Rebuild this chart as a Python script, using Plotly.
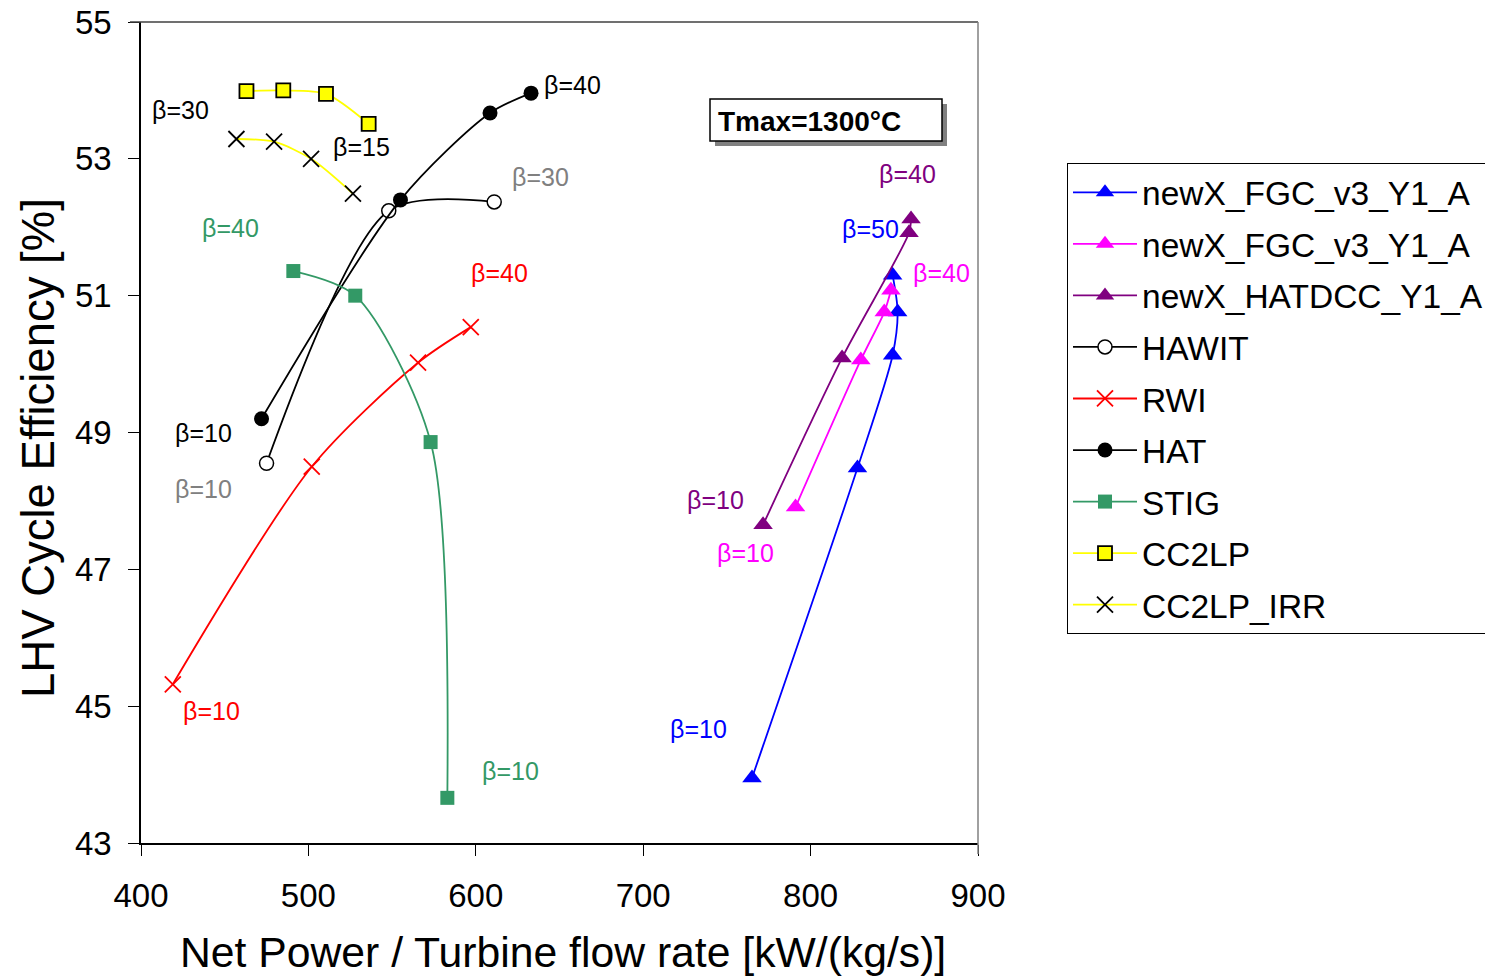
import plotly.graph_objects as go

# ---- data ----
fgc_blue_x = [765, 828, 849, 852, 849]
fgc_blue_y = [43.95, 48.48, 50.13, 50.76, 51.30]

fgc_mag_x = [791, 830, 844, 848]
fgc_mag_y = [47.91, 50.06, 50.76, 51.08]

hatdcc_x = [771.6, 818.8, 858.8, 860.0]
hatdcc_y = [47.65, 50.09, 51.92, 52.12]

hawit_x = [475, 548, 611]
hawit_y = [48.55, 52.24, 52.37]

rwi_x = [419, 502, 565.5, 597]
rwi_y = [45.32, 48.50, 50.02, 50.54]

hat_x = [472, 555, 608.5, 633]
hat_y = [49.20, 52.40, 53.67, 53.96]

stig_x = [491, 528, 573, 583]
stig_y = [51.36, 51.00, 48.86, 43.66]

cc2lp_x = [463, 485, 510.5, 536]
cc2lp_y = [53.99, 54.00, 53.95, 53.51]

cc2lp_irr_x = [457, 479.5, 501.6, 526.6]
cc2lp_irr_y = [53.29, 53.25, 53.00, 52.49]

x_ticks = [400, 500, 600, 700, 800, 900]
y_ticks = [43, 45, 47, 49, 51, 53, 55]

label_text = ["β=30", "β=15", "β=40", "β=30", "β=40", "β=40", "β=10", "β=10",
              "β=10", "β=10", "β=40", "β=50", "β=40", "β=10", "β=10", "β=10"]
label_x = [423.3, 532, 658, 638.4, 453.2, 613.9, 437.6, 437.6,
           442.4, 621, 857.6, 835.5, 877.9, 742.9, 761.4, 733.3]
label_y = [53.71, 53.17, 54.08, 52.73, 51.99, 51.33, 48.99, 48.17,
           44.93, 44.05, 52.78, 51.97, 51.33, 48.01, 47.24, 44.67]
label_color = ["black", "black", "black", "#808080", "#339966", "#FF0000", "black", "#808080",
               "#FF0000", "#339966", "#800080", "#0000FF", "#FF00FF", "#800080", "#FF00FF", "#0000FF"]

FONT = "Liberation Sans, Arial, sans-serif"
LW = 1.8

fig = go.Figure()

def add(name, xs, ys, lcolor, symbol, msize, mcolor, mline_color=None, mline_w=0, grp=None):
    fig.add_trace(go.Scatter(
        x=xs, y=ys, name=name, mode="lines+markers",
        legendgroup=grp or name,
        line=dict(color=lcolor, width=LW, shape="spline", smoothing=0.8),
        marker=dict(symbol=symbol, size=msize, color=mcolor,
                    line=dict(color=mline_color or mcolor, width=mline_w)),
    ))

add("newX_FGC_v3_Y1_A", fgc_blue_x, fgc_blue_y, "#0000FF", "triangle-up", 17, "#0000FF", grp="g1")
add("newX_FGC_v3_Y1_A", fgc_mag_x, fgc_mag_y, "#FF00FF", "triangle-up", 17, "#FF00FF", grp="g2")
add("newX_HATDCC_Y1_A", hatdcc_x, hatdcc_y, "#800080", "triangle-up", 17, "#800080", grp="g3")
add("HAWIT", hawit_x, hawit_y, "black", "circle", 14, "white", "black", 1.5, grp="g4")
add("RWI", rwi_x, rwi_y, "#FF0000", "x-thin", 16, "#FF0000", "#FF0000", 1.8, grp="g5")
add("HAT", hat_x, hat_y, "black", "circle", 15, "black", grp="g6")
add("STIG", stig_x, stig_y, "#339966", "square", 14, "#339966", grp="g7")
add("CC2LP", cc2lp_x, cc2lp_y, "#FFFF00", "square", 14, "#FFFF00", "black", 1.8, grp="g8")
add("CC2LP_IRR", cc2lp_irr_x, cc2lp_irr_y, "#FFFF00", "x-thin", 16, "black", "black", 1.8, grp="g9")

for t, x, y, c in zip(label_text, label_x, label_y, label_color):
    fig.add_annotation(x=x, y=y, text=t, showarrow=False, xanchor="center", yanchor="middle",
                       font=dict(family=FONT, size=25, color=c))

# plot area pixels: left 141, right 978, top 22, bottom 843
W, H = 1485, 979
L, R, T, B = 141, 978, 22, 843
def px(xp):
    return (xp - L) / (R - L)
def py(yp):
    return (B - yp) / (B - T)

# top/right frame in gray
fig.add_shape(type="line", xref="paper", yref="paper", x0=px(130), x1=1, y0=1, y1=1,
              line=dict(color="#404040", width=1.5))
fig.add_shape(type="line", xref="paper", yref="paper", x0=1, x1=1, y0=py(854), y1=1,
              line=dict(color="#808080", width=1.5))

# Tmax box with shadow
fig.add_shape(type="rect", xref="paper", yref="paper", x0=px(715), x1=px(947), y0=py(146), y1=py(104),
              fillcolor="#808080", line=dict(width=0), layer="below")
fig.add_shape(type="rect", xref="paper", yref="paper", x0=px(710), x1=px(942), y0=py(141), y1=py(99),
              fillcolor="white", line=dict(color="black", width=1.5), layer="below")
fig.add_annotation(xref="paper", yref="paper", x=px(716), y=py(121), text="<b>Tmax=1300°C</b>",
                   showarrow=False, xanchor="left", yanchor="middle",
                   font=dict(family=FONT, size=28, color="black"))

# axis titles
fig.add_annotation(xref="paper", yref="paper", x=px(563), y=py(952),
                   text="Net Power / Turbine flow rate [kW/(kg/s)]", showarrow=False,
                   xanchor="center", yanchor="middle",
                   font=dict(family=FONT, size=42.7, color="black"))
fig.add_annotation(xref="paper", yref="paper", x=px(38), y=py(448),
                   text="LHV Cycle Efficiency [%]", showarrow=False, textangle=-90,
                   xanchor="center", yanchor="middle",
                   font=dict(family=FONT, size=45.5, color="black"))

fig.update_layout(
    width=W, height=H,
    margin=dict(l=L, r=W - R, t=T, b=H - B, autoexpand=False),
    paper_bgcolor="white", plot_bgcolor="white",
    font=dict(family=FONT, color="black"),
    legend=dict(x=px(1067), y=py(163), xanchor="left", yanchor="top",
                bordercolor="black", borderwidth=1, bgcolor="white",
                font=dict(family=FONT, size=33.5, color="black"),
                traceorder="grouped", tracegroupgap=5, itemwidth=64),
    xaxis=dict(range=[400, 900], tickvals=x_ticks, ticks="outside", ticklen=11,
               tickcolor="black", showline=True, linecolor="black", linewidth=1.5,
               showgrid=False, zeroline=False, ticklabelstandoff=12,
               tickfont=dict(family=FONT, size=33)),
    yaxis=dict(range=[43, 55], tickvals=y_ticks, ticks="outside", ticklen=11,
               tickcolor="black", showline=True, linecolor="black", linewidth=1.5,
               showgrid=False, zeroline=False, ticklabelstandoff=10,
               tickfont=dict(family=FONT, size=33)),
)

fig.write_html("out.html")
